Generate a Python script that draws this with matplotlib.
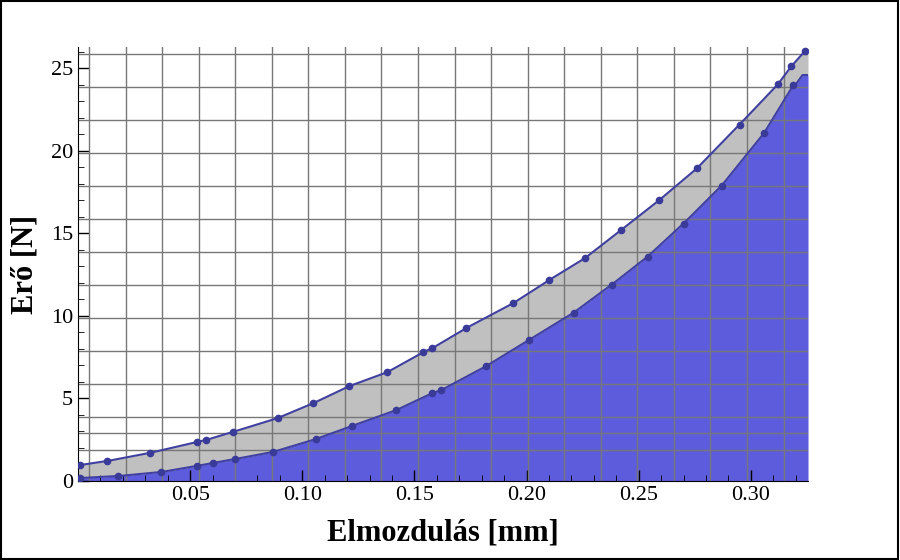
import numpy as np
import matplotlib
matplotlib.use("Agg")
import matplotlib.pyplot as plt

# upper curve (measured points)
upper_x = [0.001, 0.013, 0.032, 0.053, 0.057, 0.069, 0.089, 0.105, 0.121, 0.138, 0.154, 0.158,
           0.173, 0.194, 0.210, 0.226, 0.242, 0.259, 0.276, 0.295, 0.312, 0.318, 0.324]
upper_y = [0.97, 1.21, 1.70, 2.36, 2.48, 2.97, 3.81, 4.72, 5.75, 6.60, 7.81, 8.05,
           9.26, 10.77, 12.17, 13.50, 15.19, 17.00, 18.95, 21.60, 24.03, 25.12, 26.03]

# lower curve
lower_x = [0.001, 0.018, 0.037, 0.053, 0.060, 0.070, 0.087, 0.106, 0.122, 0.142, 0.158, 0.162,
           0.182, 0.201, 0.221, 0.238, 0.254, 0.270, 0.287, 0.306, 0.319]
lower_y = [0.18, 0.30, 0.54, 0.91, 1.09, 1.33, 1.76, 2.54, 3.33, 4.30, 5.33, 5.51,
           6.96, 8.54, 10.20, 11.90, 13.60, 15.60, 17.90, 21.10, 24.00]

x_ticks = [0.05, 0.10, 0.15, 0.20, 0.25, 0.30]
y_ticks = [0, 5, 10, 15, 20, 25]

plt.rcParams["font.family"] = "Liberation Serif"

fig = plt.figure(figsize=(9, 5.6), dpi=100)
ax = fig.add_axes([78 / 900, 79 / 560, 730 / 900, 434 / 560])
fig.patches.append(plt.Rectangle((0.001, 0.002), 0.997, 0.996, transform=fig.transFigure,
                                 fill=False, edgecolor="black", linewidth=1.5))

xmax = 0.3255
# fill under lower curve and between curves (interpolate onto common grid)
xs = np.linspace(0, xmax, 400)
lo = np.interp(xs, lower_x, lower_y, left=lower_y[0])
lo_end = np.polyfit(lower_x[-3:], lower_y[-3:], 1)
lo = np.where(xs > lower_x[-1], np.polyval(lo_end, xs), lo)
lo = np.minimum(lo, 24.6)
up = np.interp(xs, upper_x, upper_y, left=upper_y[0])
ax.fill_between(xs, 0, lo, color="#5c5cdc", zorder=1, linewidth=0)
ax.fill_between(xs, lo, up, color="#c0c0c0", zorder=1, linewidth=0)

for gx in np.arange(0.0049, xmax, 0.0163):
    ax.axvline(gx, color="#777777", linewidth=1, zorder=2)
for gy in [1.9, 2.9, 3.9, 5.9, 7.9, 9.9, 11.9, 13.9, 15.9, 17.9, 19.9, 21.9, 23.9, 25.9]:
    ax.axhline(gy, color="#777777", linewidth=1, zorder=2)

ax.plot(xs, up, color="#4040a0", linewidth=1.5, zorder=3)
ax.plot(xs, lo, color="#4040a0", linewidth=1.5, zorder=3)
ax.plot(upper_x, upper_y, "o", color="#3a3a98", markersize=4.5, zorder=4)
ax.plot(lower_x, lower_y, "o", color="#3a3a98", markersize=4.5, zorder=4)

ax.set_xlim(0, xmax)
ax.set_ylim(0, 26.3)
ax.set_xticks(x_ticks)
ax.set_xticklabels([f"{t:.2f}" for t in x_ticks])
ax.set_yticks(y_ticks)
ax.set_xticks(np.arange(0.01, xmax, 0.01), minor=True)
ax.set_yticks(np.arange(1, 26.3, 1), minor=True)
ax.tick_params(labelsize=16, direction="in", length=8, width=1)
ax.tick_params(which="minor", direction="in", length=4)
for s in ["top", "right"]:
    ax.spines[s].set_visible(False)
ax.set_xlabel("Elmozdulás [mm]", fontsize=22, fontweight="bold", labelpad=10)
ax.set_ylabel("Erő [N]", fontsize=22, fontweight="bold", labelpad=8)

fig.savefig("out.png", dpi=100)
